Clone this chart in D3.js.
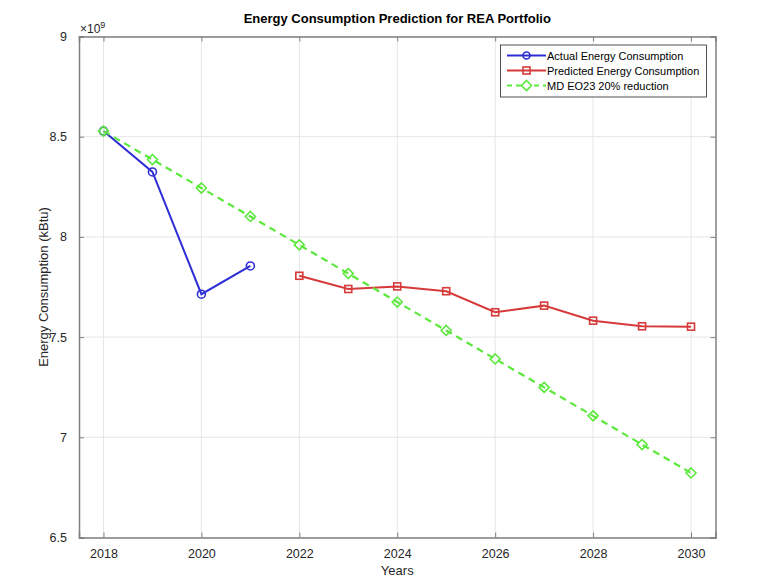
<!DOCTYPE html>
<html><head><meta charset="utf-8">
<script src="https://cdn.jsdelivr.net/npm/d3@7"></script>
<style>body{margin:0;background:#fff;} text{font-family:"Liberation Sans",Arial,sans-serif;}</style>
</head><body>
<svg id="c" width="768" height="587"></svg>
<script>
const actualYears = [2018, 2019, 2020, 2021];
const actualValues = [8.528e9, 8.324e9, 7.714e9, 7.855e9];
const predictedYears = [2022, 2023, 2024, 2025, 2026, 2027, 2028, 2029, 2030];
const predictedValues = [7.806e9, 7.740e9, 7.753e9, 7.729e9, 7.624e9, 7.657e9, 7.582e9, 7.554e9, 7.552e9];
const targetYears = [2018, 2019, 2020, 2021, 2022, 2023, 2024, 2025, 2026, 2027, 2028, 2029, 2030];
const targetValues = [8.528e9, 8.386e9, 8.244e9, 8.102e9, 7.960e9, 7.817e9, 7.675e9, 7.533e9, 7.391e9, 7.249e9, 7.107e9, 6.964e9, 6.822e9];
const xTicks = [2018, 2020, 2022, 2024, 2026, 2028, 2030];
const yTicks = [6.5e9, 7e9, 7.5e9, 8e9, 8.5e9, 9e9];
const legendLabels = ["Actual Energy Consumption", "Predicted Energy Consumption", "MD EO23 20% reduction"];

const svg = d3.select("#c");
const L = 79, R = 715.5, T = 36.5, B = 537.5;
const x = d3.scaleLinear().domain([2017.5, 2030.5]).range([L, R]);
const y = d3.scaleLinear().domain([6.5e9, 9e9]).range([B, T]);

// grid
const g = svg.append("g");
g.selectAll(".gx").data(xTicks).join("line").attr("x1", d => x(d)).attr("x2", d => x(d)).attr("y1", T).attr("y2", B).attr("stroke", "#e6e6e6").attr("stroke-width", 1);
g.selectAll(".gy").data(yTicks).join("line").attr("x1", L).attr("x2", R).attr("y1", d => y(d)).attr("y2", d => y(d)).attr("stroke", "#e6e6e6").attr("stroke-width", 1);

const axisColor = "#262626";
const fmtY = d => d3.format("~g")(d / 1e9);
// axes with inward ticks
const xb = svg.append("g").attr("transform", `translate(0,${B})`).call(d3.axisBottom(x).tickValues(xTicks).tickFormat(d3.format("d")).tickSize(-5).tickPadding(12));
const xt = svg.append("g").attr("transform", `translate(0,${T})`).call(d3.axisTop(x).tickValues(xTicks).tickFormat("").tickSize(-5));
const yl = svg.append("g").attr("transform", `translate(${L},0)`).call(d3.axisLeft(y).tickValues(yTicks).tickFormat(fmtY).tickSize(-5).tickPadding(12));
const yr = svg.append("g").attr("transform", `translate(${R},0)`).call(d3.axisRight(y).tickValues(yTicks).tickFormat("").tickSize(-5));
[xb, xt, yl, yr].forEach(a => {
  a.selectAll("path").attr("stroke", "#808080").attr("stroke-width", 1.5);
  a.selectAll("line").attr("stroke", "#808080");
  a.selectAll("text").attr("fill", axisColor).attr("font-size", 12.5).attr("font-family", "Liberation Sans, Arial, sans-serif");
});

// exponent
const ex = svg.append("text").attr("x", L + 1).attr("y", T - 4).attr("fill", axisColor).attr("font-size", 12);
ex.append("tspan").text("×10");
ex.append("tspan").attr("dy", -5).attr("font-size", 9).text("9");

// lines
const line = d3.line().x(d => x(d[0])).y(d => y(d[1]));
const blue = "#2e2ed6", red = "#d63a3a", green = "#5ce83c";
const actual = actualYears.map((d, i) => [d, actualValues[i]]);
const pred = predictedYears.map((d, i) => [d, predictedValues[i]]);
const targ = targetYears.map((d, i) => [d, targetValues[i]]);

svg.append("path").datum(actual).attr("d", line).attr("fill", "none").attr("stroke", blue).attr("stroke-width", 2);
svg.append("path").datum(pred).attr("d", line).attr("fill", "none").attr("stroke", red).attr("stroke-width", 2);
svg.append("path").datum(targ).attr("d", line).attr("fill", "none").attr("stroke", green).attr("stroke-width", 2.2).attr("stroke-dasharray", "7,5");

function circles(data, color) {
  svg.append("g").selectAll("circle").data(data).join("circle").attr("cx", d => x(d[0])).attr("cy", d => y(d[1])).attr("r", 4).attr("fill", "none").attr("stroke", color).attr("stroke-width", 1.6);
}
function squares(data, color) {
  svg.append("g").selectAll("rect").data(data).join("rect").attr("x", d => x(d[0]) - 3.5).attr("y", d => y(d[1]) - 3.5).attr("width", 7).attr("height", 7).attr("fill", "none").attr("stroke", color).attr("stroke-width", 1.6);
}
const diamond = (cx, cy, s) => `M${cx},${cy - s}L${cx + s},${cy}L${cx},${cy + s}L${cx - s},${cy}Z`;
function diamonds(data, color) {
  svg.append("g").selectAll("path").data(data).join("path").attr("d", d => diamond(x(d[0]), y(d[1]), 5)).attr("fill", "none").attr("stroke", color).attr("stroke-width", 1.6);
}
circles(actual, blue);
squares(pred, red);
diamonds(targ, green);

// title and labels
svg.append("text").attr("x", (L + R) / 2).attr("y", 23).attr("text-anchor", "middle").attr("font-weight", "bold").attr("font-size", 13).attr("fill", "#000").text("Energy Consumption Prediction for REA Portfolio");
svg.append("text").attr("x", (L + R) / 2).attr("y", 575).attr("text-anchor", "middle").attr("font-size", 13).attr("fill", axisColor).text("Years");
svg.append("text").attr("transform", `translate(48,${(T + B) / 2}) rotate(-90)`).attr("text-anchor", "middle").attr("font-size", 13).attr("fill", axisColor).text("Energy Consumption (kBtu)");

// legend
const lg = svg.append("g");
lg.append("rect").attr("x", 500.5).attr("y", 45).attr("width", 206).attr("height", 52).attr("fill", "#fff").attr("stroke", "#262626").attr("stroke-width", 0.8);
const colors = [blue, red, green];
legendLabels.forEach((lab, i) => {
  const yy = 55.5 + i * 15;
  const ln = lg.append("line").attr("x1", 507).attr("x2", 546).attr("y1", yy).attr("y2", yy).attr("stroke", colors[i]).attr("stroke-width", 2);
  if (i === 2) ln.attr("stroke-dasharray", "5,4").attr("stroke-dashoffset", 0);
  if (i === 0) lg.append("circle").attr("cx", 526.5).attr("cy", yy).attr("r", 3.5).attr("fill", "none").attr("stroke", blue).attr("stroke-width", 1.6);
  if (i === 1) lg.append("rect").attr("x", 523).attr("y", yy - 3.5).attr("width", 7).attr("height", 7).attr("fill", "none").attr("stroke", red).attr("stroke-width", 1.6);
  if (i === 2) lg.append("path").attr("d", diamond(526.5, yy, 5)).attr("fill", "#fff").attr("stroke", green).attr("stroke-width", 1.6);
  lg.append("text").attr("x", 547).attr("y", yy + 4).attr("font-size", 11).attr("fill", "#000").text(lab);
});
</script>
</body></html>
